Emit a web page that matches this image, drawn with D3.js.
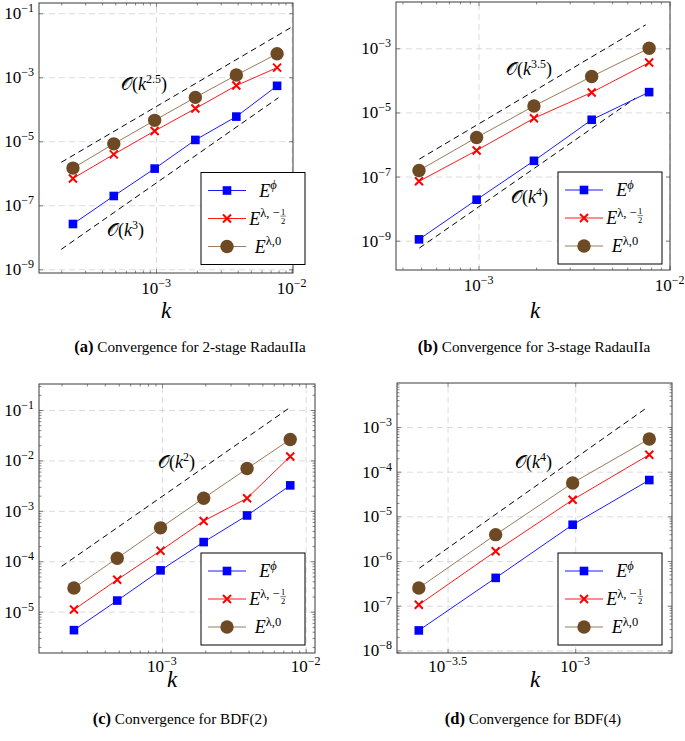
<!DOCTYPE html>
<html>
<head>
<meta charset="utf-8">
<script src="https://d3js.org/d3.v7.min.js"></script>
<style>
body { margin: 0; background: #ffffff; }
text { font-family: "Liberation Serif", "DejaVu Serif", serif; fill: #000; }
</style>
</head>
<body>
<div id="Figure"></div>
<script>
//////////////////////////////////////////////////////////////////////////
// data
//   k = time step, errors for E^phi, E^{lambda,-1/2}, E^{lambda,0}

// (a) 2-stage RadauIIa
var kA       = [0.000244, 0.000488, 0.000977, 0.00195, 0.00391, 0.00781];
var phiA     = [2.6e-8, 1.95e-7, 1.4e-6, 1.1e-5, 5.9e-5, 5.4e-4];
var lamHalfA = [6.9e-7, 3.9e-6, 2.1e-5, 1.05e-4, 5.5e-4, 2.0e-3];
var lam0A    = [1.45e-6, 8.3e-6, 4.5e-5, 2.35e-4, 1.17e-3, 5.4e-3];
var refKA    = [[2.0e-4, 9.8e-3], [2.0e-4, 8.0e-3]];
var refEA    = [[2.2e-6, 3.5e-2], [4.2e-9, 2.3e-4]];
var refOrdA  = ["2.5", "3"];
var xExpA    = [-3, -2];
var yExpA    = [-1, -3, -5, -7, -9];

// (b) 3-stage RadauIIa
var kB       = [0.000488, 0.000977, 0.00195, 0.00391, 0.00781];
var phiB     = [1.1e-9, 1.9e-8, 3.1e-7, 5.9e-6, 4.3e-5];
var lamHalfB = [7.1e-8, 6.5e-7, 6.6e-6, 4.2e-5, 3.6e-4];
var lam0B    = [1.55e-7, 1.66e-6, 1.58e-5, 1.32e-4, 1.0e-3];
var refKB    = [[4.9e-4, 7.5e-3], [4.9e-4, 6.6e-3]];
var refEB    = [[3.5e-7, 5.4e-3], [5.9e-10, 2.75e-5]];
var refOrdB  = ["3.5", "4"];
var xExpB    = [-3, -2];
var yExpB    = [-3, -5, -7, -9];

// (c) BDF(2)
var kC       = [0.000244, 0.000488, 0.000977, 0.00195, 0.00391, 0.00781];
var phiC     = [4.3e-6, 1.66e-5, 6.6e-5, 2.4e-4, 8.1e-4, 3.2e-3];
var lamHalfC = [1.1e-5, 4.3e-5, 1.62e-4, 6.3e-4, 1.78e-3, 1.2e-2];
var lam0C    = [2.95e-5, 1.15e-4, 4.6e-4, 1.78e-3, 6.9e-3, 2.6e-2];
var refKC    = [[2.0e-4, 7.6e-3]];
var refEC    = [[7.9e-5, 1.07e-1]];
var refOrdC  = ["2"];
var xExpC    = [-3, -2];
var yExpC    = [-1, -2, -3, -4, -5];

// (d) BDF(4)
var kD       = [0.000244, 0.000488, 0.000977, 0.00195];
var phiD     = [2.8e-8, 4.2e-7, 6.5e-6, 6.5e-5];
var lamHalfD = [1.05e-7, 1.66e-6, 2.35e-5, 2.4e-4];
var lam0D    = [2.5e-7, 3.9e-6, 5.6e-5, 5.4e-4];
var refKD    = [[2.45e-4, 1.9e-3]];
var refED    = [[6.9e-7, 2.66e-3]];
var refOrdD  = ["4"];
var xExpD    = [-3.5, -3];
var yExpD    = [-3, -4, -5, -6, -7, -8];

var captions = ["Convergence for 2-stage RadauIIa", "Convergence for 3-stage RadauIIa",
                "Convergence for BDF(2)", "Convergence for BDF(4)"];
var captionTags = ["(a)", "(b)", "(c)", "(d)"];

//////////////////////////////////////////////////////////////////////////
// layout / style globals

var Width = 685;
var Height = 741;

var BlueColor  = "#0000ff";
var RedColor   = "#ff0000";
var BrownLine  = "#8f6c48";
var BrownFill  = "#6e4a24";
var GridColor  = "#d2d2d2";
var TickColor  = "#555555";

// panel boxes in px and the log10 extent of each axis
var panels = [
    { left: 39, right: 293, top: 3, bottom: 273, xLog: [-3.863, -1.99], yLog: [-9.116, -0.68],
      k: kA, phi: phiA, lamHalf: lamHalfA, lam0: lam0A, refK: refKA, refE: refEA, refOrd: refOrdA,
      xExp: xExpA, yExp: yExpA, xMinor: true, yMinor: false,
      refPos: [[121, 90], [107, 236]], legend: [201, 172.5],
      kPos: [166, 318], capPos: [190, 352], xLabY: 294 },
    { left: 396, right: 670, top: 2, bottom: 270, xLog: [-3.432, -1.998], yLog: [-9.914, -1.556],
      k: kB, phi: phiB, lamHalf: lamHalfB, lam0: lam0B, refK: refKB, refE: refEB, refOrd: refOrdB,
      xExp: xExpB, yExp: yExpB, xMinor: true, yMinor: false,
      refPos: [[506, 75], [511, 203]], legend: [558, 172],
      kPos: [535, 318], capPos: [534, 352], xLabY: 291 },
    { left: 39, right: 315, top: 384, bottom: 653, xLog: [-3.856, -1.935], yLog: [-5.82, -0.484],
      k: kC, phi: phiC, lamHalf: lamHalfC, lam0: lam0C, refK: refKC, refE: refEC, refOrd: refOrdC,
      xExp: xExpC, yExp: yExpC, xMinor: true, yMinor: true,
      refPos: [[158, 468]], legend: [201, 553],
      kPos: [172, 687], capPos: [180, 724], xLabY: 672 },
    { left: 397, right: 672, top: 383, bottom: 653, xLog: [-3.698, -2.621], yLog: [-8.058, -2.015],
      k: kD, phi: phiD, lamHalf: lamHalfD, lam0: lam0D, refK: refKD, refE: refED, refOrd: refOrdD,
      xExp: xExpD, yExp: yExpD, xMinor: false, yMinor: true,
      refPos: [[515, 468]], legend: [558, 553],
      kPos: [535, 687], capPos: [533, 724], xLabY: 672 }
];

//////////////////////////////////////////////////////////////////////////
// functions start here

function initialize () {

    var svg = d3.select("#Figure")
        .append("svg")
        .attr("width", Width)
        .attr("height", Height);

    svg.append("rect")
        .attr("width", Width)
        .attr("height", Height)
        .attr("fill", "#ffffff");

    panels.forEach(function (p, i) { drawPanel(svg, p, i); });

} // end initialize

// exponent string with a real minus sign
function expText (e) {
    return (e < 0 ? "\u2212" : "") + Math.abs(e);
} // end expText

// inward ticks on one side of the box
function tickSide (svg, orient, scale, values, size, p) {

    var axis, tr;
    if (orient == "bottom") { axis = d3.axisBottom(scale); tr = "translate(0," + p.bottom + ")"; }
    if (orient == "top")    { axis = d3.axisTop(scale);    tr = "translate(0," + p.top + ")"; }
    if (orient == "left")   { axis = d3.axisLeft(scale);   tr = "translate(" + p.left + ",0)"; }
    if (orient == "right")  { axis = d3.axisRight(scale);  tr = "translate(" + p.right + ",0)"; }

    var g = svg.append("g")
        .attr("transform", tr)
        .call(axis.tickValues(values).tickSize(-size).tickSizeOuter(0).tickFormat(""));
    g.select(".domain").remove();
    g.selectAll("text").remove();
    g.selectAll("line").attr("stroke", TickColor).attr("stroke-width", 0.7);

} // end tickSide

// draw one convergence plot
function drawPanel (svg, p, idx) {

    var w = p.right - p.left;
    var h = p.bottom - p.top;

    var x = d3.scaleLog()
        .domain([Math.pow(10, p.xLog[0]), Math.pow(10, p.xLog[1])])
        .range([p.left, p.right]);
    var y = d3.scaleLog()
        .domain([Math.pow(10, p.yLog[0]), Math.pow(10, p.yLog[1])])
        .range([p.bottom, p.top]);

    var xMajor = p.xExp.map(function (e) { return Math.pow(10, e); });
    var yMajor = p.yExp.map(function (e) { return Math.pow(10, e); });

    // not a decade -> minor tick
    function notDecade (v) {
        var l = Math.log10(v);
        return Math.abs(l - Math.round(l)) > 0.01;
    }

    // dashed grid at the major ticks
    var gx = svg.append("g")
        .attr("transform", "translate(0," + p.bottom + ")")
        .call(d3.axisBottom(x).tickValues(xMajor).tickSize(-h).tickSizeOuter(0).tickFormat(""));
    var gy = svg.append("g")
        .attr("transform", "translate(" + p.left + ",0)")
        .call(d3.axisLeft(y).tickValues(yMajor).tickSize(-w).tickSizeOuter(0).tickFormat(""));
    [gx, gy].forEach(function (g) {
        g.select(".domain").remove();
        g.selectAll("text").remove();
        g.selectAll("line")
            .attr("stroke", GridColor)
            .attr("stroke-width", 0.8)
            .attr("stroke-dasharray", "6,4");
    });

    // ticks on all four sides, pointing in
    var xMinor = p.xMinor ? x.ticks().filter(notDecade) : [];
    var yMinor = p.yMinor ? y.ticks().filter(notDecade) : [];
    tickSide(svg, "bottom", x, xMinor, 2.5, p);
    tickSide(svg, "top", x, xMinor, 2.5, p);
    tickSide(svg, "left", y, yMinor, 2.5, p);
    tickSide(svg, "right", y, yMinor, 2.5, p);
    tickSide(svg, "bottom", x, xMajor, 4, p);
    tickSide(svg, "top", x, xMajor, 4, p);
    tickSide(svg, "left", y, yMajor, 4, p);
    tickSide(svg, "right", y, yMajor, 4, p);

    // box
    svg.append("rect")
        .attr("x", p.left)
        .attr("y", p.top)
        .attr("width", w)
        .attr("height", h)
        .attr("fill", "none")
        .attr("stroke", "#3a3a3a")
        .attr("stroke-width", 1);

    var line = d3.line()
        .x(function (d) { return x(d[0]); })
        .y(function (d) { return y(d[1]); });

    // reference slopes
    p.refK.forEach(function (ks, i) {
        svg.append("path")
            .attr("d", line(d3.zip(ks, p.refE[i])))
            .attr("fill", "none")
            .attr("stroke", "#000")
            .attr("stroke-width", 1)
            .attr("stroke-dasharray", "6,4");
        orderLabel(svg, p.refPos[i][0], p.refPos[i][1], p.refOrd[i]);
    });

    // the three error curves
    var series = [
        { vals: p.phi, color: BlueColor, mark: "square" },
        { vals: p.lamHalf, color: RedColor, mark: "cross" },
        { vals: p.lam0, color: BrownLine, mark: "circle" }
    ];
    series.forEach(function (s) {
        var pts = d3.zip(p.k, s.vals);
        svg.append("path")
            .attr("d", line(pts))
            .attr("fill", "none")
            .attr("stroke", s.color)
            .attr("stroke-width", 0.9);
        pts.forEach(function (d) { drawMark(svg, s.mark, x(d[0]), y(d[1])); });
    });

    // tick labels
    p.xExp.forEach(function (e) {
        var t = svg.append("text")
            .attr("x", x(Math.pow(10, e)))
            .attr("y", p.xLabY)
            .attr("text-anchor", "middle")
            .attr("font-size", "17px");
        t.append("tspan").text("10");
        t.append("tspan").attr("dy", -7).attr("font-size", "12px").text(expText(e));
    });
    p.yExp.forEach(function (e) {
        var t = svg.append("text")
            .attr("x", p.left - 5)
            .attr("y", y(Math.pow(10, e)) + 6)
            .attr("text-anchor", "end")
            .attr("font-size", "17px");
        t.append("tspan").text("10");
        t.append("tspan").attr("dy", -7).attr("font-size", "12px").text(expText(e));
    });

    // axis title k
    svg.append("text")
        .attr("x", p.kPos[0])
        .attr("y", p.kPos[1])
        .attr("text-anchor", "middle")
        .attr("font-size", "23px")
        .attr("font-style", "italic")
        .text("k");

    // caption, centred under the panel
    var cap = svg.append("text")
        .attr("x", p.capPos[0])
        .attr("y", p.capPos[1])
        .attr("text-anchor", "middle")
        .attr("font-size", "15.2px");
    cap.append("tspan").attr("font-weight", "bold").attr("font-size", "16.5px").text(captionTags[idx]);
    cap.append("tspan").text(" " + captions[idx]);

    drawLegend(svg, p.legend[0], p.legend[1]);

} // end drawPanel

// one marker
function drawMark (svg, mark, cx, cy) {
    if (mark == "square") {
        svg.append("rect")
            .attr("x", cx - 4.3).attr("y", cy - 4.3)
            .attr("width", 8.6).attr("height", 8.6)
            .attr("fill", BlueColor);
    } else if (mark == "cross") {
        svg.append("path")
            .attr("d", "M" + (cx - 4) + "," + (cy - 4) + "L" + (cx + 4) + "," + (cy + 4) +
                       "M" + (cx - 4) + "," + (cy + 4) + "L" + (cx + 4) + "," + (cy - 4))
            .attr("stroke", RedColor)
            .attr("stroke-width", 2);
    } else {
        svg.append("circle")
            .attr("cx", cx).attr("cy", cy).attr("r", 6.7)
            .attr("fill", BrownFill);
    }
} // end drawMark

// O(k^p) label
function orderLabel (svg, x0, y0, ord) {
    var t = svg.append("text")
        .attr("x", x0)
        .attr("y", y0)
        .attr("font-size", "18px");
    t.append("tspan").text("\uD835\uDCAA");
    t.append("tspan").text("(");
    t.append("tspan").attr("font-style", "italic").text("k");
    t.append("tspan").attr("dy", -7).attr("font-size", "12px").text(ord);
    t.append("tspan").attr("dy", 7).text(")");
} // end orderLabel

// legend box with three entries
function drawLegend (svg, bx, by) {

    var g = svg.append("g").attr("transform", "translate(" + bx + "," + by + ")");
    g.append("rect")
        .attr("width", 104)
        .attr("height", 92)
        .attr("fill", "#ffffff")
        .attr("stroke", "#000")
        .attr("stroke-width", 1);

    var rows = [
        { y: 18, color: BlueColor, mark: "square" },
        { y: 46, color: RedColor, mark: "cross" },
        { y: 74, color: BrownLine, mark: "circle" }
    ];
    rows.forEach(function (r, i) {
        g.append("line")
            .attr("x1", 7).attr("x2", 45)
            .attr("y1", r.y).attr("y2", r.y)
            .attr("stroke", r.color)
            .attr("stroke-width", 0.9);
        drawMark(g, r.mark, 26, r.y);

        var lg = g.append("g");
        var t = lg.append("text")
            .attr("x", 0)
            .attr("y", r.y + 6)
            .attr("font-size", "18px");
        t.append("tspan").attr("font-style", "italic").text("E");
        var sup = i == 0 ? "\u03D5" : (i == 1 ? "\u03BB, \u2212" : "\u03BB,0");
        t.append("tspan")
            .attr("dy", -7.5)
            .attr("font-size", "12.5px")
            .attr("font-style", i == 0 ? "italic" : "normal")
            .text(sup);
        var wt = t.node().getComputedTextLength();
        var wTot = wt;
        if (i == 1) {
            // little 1/2 fraction
            var fx = wt + 3.5;
            lg.append("text").attr("x", fx).attr("y", r.y - 4).attr("font-size", "8.5px")
                .attr("text-anchor", "middle").text("1");
            lg.append("line").attr("x1", fx - 2.8).attr("x2", fx + 2.8)
                .attr("y1", r.y - 2.4).attr("y2", r.y - 2.4)
                .attr("stroke", "#000").attr("stroke-width", 0.5);
            lg.append("text").attr("x", fx).attr("y", r.y + 5)
                .attr("font-size", "8.5px")
                .attr("text-anchor", "middle").text("2");
            wTot = wt + 7;
        }
        lg.attr("transform", "translate(" + (67 - wTot / 2) + ",0)");
    });

} // end drawLegend

//////////////////////////////////////////////////////////////////////////
initialize();
</script>
</body>
</html>
